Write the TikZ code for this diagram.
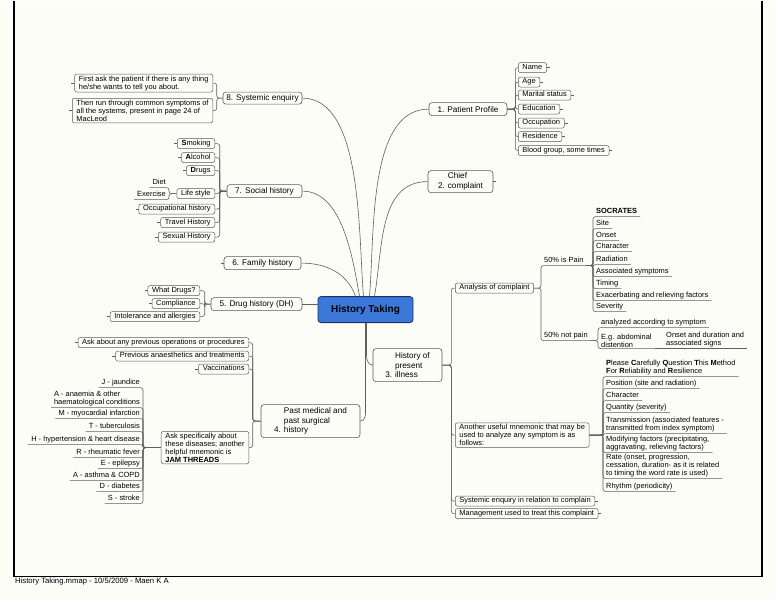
\documentclass[tikz,border=0pt]{standalone}
\usepackage{fontspec}
\setmainfont{Liberation Sans}
\definecolor{hubblue}{RGB}{60,120,216}
\definecolor{hubedge}{RGB}{25,50,110}
\definecolor{lineg}{RGB}{95,95,95}
\definecolor{boxg}{RGB}{90,90,90}
\definecolor{bgc}{RGB}{253,253,248}
\begin{document}
\begin{tikzpicture}[x=1pt,y=-1pt,
 conn/.style={draw=lineg,line width=0.6pt,rounded corners=2.5pt},
 hubnode/.style={draw=hubedge,fill=hubblue,line width=0.8pt,rounded corners=3pt,minimum width=95pt,minimum height=26pt,inner sep=0pt,font=\fontsize{10}{12}\selectfont\bfseries},
 mainbox/.style={draw=boxg,line width=0.6pt,rounded corners=3pt,inner xsep=2pt,inner ysep=0pt,font=\fontsize{8.2}{9.7}\selectfont},
 subbase/.style={draw=boxg,line width=0.5pt,rounded corners=2pt,inner xsep=4.2pt,inner ysep=1.5pt,font=\fontsize{7.45}{8.0}\selectfont},
 subbox/.style={subbase,text height=5.3pt,text depth=1.6pt},
 subml/.style={subbase,align=left},
 ulbase/.style={inner xsep=3pt,inner ysep=1pt,font=\fontsize{7.45}{8.0}\selectfont},
 ultext/.style={ulbase,text height=5.3pt,text depth=1.6pt},
 ulml/.style={ulbase,align=left},
 tickR/.style={append after command={(\tikzlastnode.east) edge[draw=lineg,line width=0.5pt] ++(3pt,0pt)}},
 tickL/.style={append after command={(\tikzlastnode.west) edge[draw=lineg,line width=0.5pt] ++(-3pt,0pt)}},
]
\path[fill=bgc] (0,0) rectangle (776,600);
\draw[line width=1.2pt] (14,0) -- (14,576) -- (762,576) -- (762,0);
\node[anchor=base west,inner sep=0pt,font=\fontsize{7.7}{9}\selectfont] (foot) at (15,583) {History Taking.mmap - 10/5/2009 - Maen K A};

% hub and main branches
\node[hubnode] (hub) at (365.5,309) {History Taking};
\node[mainbox,minimum width=78pt,minimum height=13pt] (c1) at (468,108.5) {1. Patient Profile};
\node[mainbox,minimum width=65pt,minimum height=22pt,align=left,tickR] (c2) at (460.5,181) {\phantom{2. }Chief\\2. complaint};
\node[mainbox,minimum width=69pt,minimum height=33pt,align=left] (c3) at (407.5,364.5) {\phantom{3. }History of\\\phantom{3. }present\\3. illness};
\node[mainbox,minimum width=99pt,minimum height=33pt,align=left] (c4) at (310.5,420.5) {\phantom{4. }Past medical and\\\phantom{4. }past surgical\\4. history};
\node[mainbox,minimum width=91pt,minimum height=13pt] (c5) at (256.5,303.5) {5. Drug history (DH)};
\node[mainbox,minimum width=77pt,minimum height=13pt,tickL] (c6) at (262.5,262.5) {6. Family history};
\node[mainbox,minimum width=75pt,minimum height=13pt] (c7) at (264.5,190.5) {7. Social history};
\node[mainbox,minimum width=79pt,minimum height=12pt] (c8) at (262.5,97.5) {8. Systemic enquiry};

\draw[conn] (c8.east) to[out=0,in=95,looseness=0.75] ([xshift=-2pt]hub.north);
\draw[conn] (c7.east) to[out=0,in=100,looseness=0.85] ([xshift=-6pt]hub.north);
\draw[conn] (c6.east) to[out=0,in=110] ([xshift=-10pt]hub.north);
\draw[conn] ([xshift=4pt]hub.north) to[out=85,in=180,looseness=0.8] (c1.west);
\draw[conn] ([xshift=9pt]hub.north) to[out=80,in=180] (c2.west);
\draw[conn] (c5.east) -- (c5.east -| hub.west);
\draw[conn] ([xshift=1pt]hub.south) -- ++(0,30) to[out=-90,in=180] (c3.west);
\draw[conn] (hub.south) -- ++(0,88) to[out=-90,in=0] (c4.east);

% 1. Patient profile
\node[subbox,anchor=west,tickR] (pp1) at (518,67) {Name};
\node[subbox,anchor=west,tickR] (pp2) at (518,81.5) {Age};
\node[subbox,anchor=west,tickR] (pp3) at (518,94.5) {Marital status};
\node[subbox,anchor=west,tickR] (pp4) at (518,108.5) {Education};
\node[subbox,anchor=west,tickR] (pp5) at (518,122.5) {Occupation};
\node[subbox,anchor=west,tickR] (pp6) at (518,136) {Residence};
\node[subbox,anchor=west,tickR] (pp7) at (518,150) {Blood group, some times};
\foreach \n in {pp1,pp2,pp3,pp4,pp5,pp6,pp7}
  \draw[conn] (c1.east) -- ++(8,0) |- (\n.west);

% 8. Systemic enquiry
\node[subml,anchor=east,tickL] (se1) at (213,82.5) {First ask the patient if there is any thing\\he/she wants to tell you about.};
\node[subml,anchor=east,tickL] (se2) at (213,110) {Then run through common symptoms of\\all the systems, present in page 24 of\\MacLeod};
\foreach \n in {se1,se2}
  \draw[conn] (c8.west) -- ++(-6,0) |- (\n.east);

% 7. Social history
\node[subbox,anchor=east,tickL] (sh1) at (215,143) {\textbf{S}moking};
\node[subbox,anchor=east,tickL] (sh2) at (215,157) {\textbf{A}lcohol};
\node[subbox,anchor=east,tickL] (sh3) at (215,170) {\textbf{D}rugs};
\node[subbox,anchor=east] (sh4) at (215,193) {Life style};
\node[subbox,anchor=east,tickL] (sh5) at (215,208.5) {Occupational history};
\node[subbox,anchor=east,tickL] (sh6) at (215,222) {Travel History};
\node[subbox,anchor=east,tickL] (sh7) at (215,236.5) {Sexual History};
\foreach \n in {sh1,sh2,sh3,sh4,sh5,sh6,sh7}
  \draw[conn] (c7.west) -- ++(-7,0) |- (\n.east);
\node[ultext,anchor=south east] (ls1) at (169,187) {Diet};
\node[ultext,anchor=south east] (ls2) at (169,199) {Exercise};
\foreach \n in {ls1,ls2}
  \draw[conn] (sh4.west) -- (\n.south east |- sh4.west) -- (\n.south east) -- (\n.south west);

% 5. Drug history
\node[subbox,anchor=east,tickL] (dh1) at (200,290) {What Drugs?};
\node[subbox,anchor=east,tickL] (dh2) at (200,303) {Compliance};
\node[subbox,anchor=east,tickL] (dh3) at (200,316) {Intolerance and allergies};
\foreach \n in {dh1,dh2,dh3}
  \draw[conn] (c5.west) -- ++(-6,0) |- (\n.east);

% 4. Past medical and surgical history
\node[subbox,anchor=east,tickL] (pm1) at (249,342) {Ask about any previous operations or procedures};
\node[subbox,anchor=east,tickL] (pm2) at (249,355.5) {Previous anaesthetics and treatments};
\node[subbox,anchor=east,tickL] (pm3) at (249,368.5) {Vaccinations};
\node[subml,anchor=east] (pm4) at (249,447) {Ask specifically about\\these diseases; another\\helpful mnemonic is\\\textbf{JAM THREADS}};
\foreach \n in {pm1,pm2,pm3,pm4}
  \draw[conn] (c4.west) -- ++(-8,0) |- (\n.east);
\node[ultext,anchor=south east] (j1) at (143,387) {J - jaundice};
\node[ulml,anchor=south east] (j2) at (143,407) {A - anaemia \& other\\haematological conditions};
\node[ultext,anchor=south east] (j3) at (143,418) {M - myocardial infarction};
\node[ultext,anchor=south east] (j4) at (143,431) {T - tuberculosis};
\node[ultext,anchor=south east] (j5) at (143,444) {H - hypertension \& heart disease};
\node[ultext,anchor=south east] (j6) at (143,457) {R - rheumatic fever};
\node[ultext,anchor=south east] (j7) at (143,468) {E - epilepsy};
\node[ultext,anchor=south east] (j8) at (143,480) {A - asthma \& COPD};
\node[ultext,anchor=south east] (j9) at (143,491) {D - diabetes};
\node[ultext,anchor=south east] (j10) at (143,503) {S - stroke};
\foreach \n in {j1,j2,j3,j4,j5,j6,j7,j8,j9,j10}
  \draw[conn] (pm4.west) -- (\n.south east |- pm4.west) -- (\n.south east) -- (\n.south west);

% 3. History of present illness
\node[subbox,anchor=west] (hp1) at (455,287.5) {Analysis of complaint};
\node[subml,anchor=west] (hp2) at (455,434.5) {Another useful mnemonic that may be\\used to analyze any symptom is as\\follows:};
\node[subbox,anchor=west,tickR] (hp3) at (455,500.5) {Systemic enquiry in relation to complain};
\node[subbox,anchor=west,tickR] (hp4) at (455,513) {Management used to treat this complaint};
\foreach \n in {hp1,hp2,hp3,hp4}
  \draw[conn] (c3.east) -- ++(9,0) |- (\n.west);

\node[ultext,anchor=south west] (ac1) at (541,265) {50\% is Pain};
\node[ultext,anchor=south west] (ac2) at (541,340) {50\% not pain};
\foreach \n in {ac1,ac2}
  \draw[conn] (hp1.east) -- (\n.south west |- hp1.east) -- (\n.south west) -- (\n.south east);

\node[ultext,anchor=south west] (so0) at (593,216) {\textbf{SOCRATES}};
\node[ultext,anchor=south west] (so1) at (593,228) {Site};
\node[ultext,anchor=south west] (so2) at (593,240) {Onset};
\node[ultext,anchor=south west] (so3) at (593,251) {Character};
\node[ultext,anchor=south west] (so4) at (593,264) {Radiation};
\node[ultext,anchor=south west] (so5) at (593,276) {Associated symptoms};
\node[ultext,anchor=south west] (so6) at (593,288) {Timing};
\node[ultext,anchor=south west] (so7) at (593,300) {Exacerbating and relieving factors};
\node[ultext,anchor=south west] (so8) at (593,311) {Severity};
\foreach \n in {so0,so1,so2,so3,so4,so5,so6,so7,so8}
  \draw[conn] (ac1.south east) -- (\n.south west |- ac1.south east) -- (\n.south west) -- (\n.south east);

\node[ultext,anchor=south west] (np1) at (598,327) {analyzed according to symptom};
\node[ulml,anchor=south west] (np2) at (598,348) {E.g. abdominal\\distention};
\foreach \n in {np1,np2}
  \draw[conn] (ac2.south east) -- (\n.south west |- ac2.south east) -- (\n.south west) -- (\n.south east);
\node[ulml,anchor=south west] (eg1) at (663,348) {Onset and duration and\\associated signs};
\draw[conn] (np2.south east) -- (eg1.south west) -- (eg1.south east);

\node[ulml,anchor=south west] (mm0) at (603,376) {\textbf{P}lease \textbf{C}arefully \textbf{Q}uestion \textbf{T}his \textbf{M}ethod\\\textbf{F}or \textbf{R}eliability and \textbf{R}esilience};
\node[ultext,anchor=south west] (mm1) at (603,388) {Position (site and radiation)};
\node[ultext,anchor=south west] (mm2) at (603,400) {Character};
\node[ultext,anchor=south west] (mm3) at (603,412) {Quantity (severity)};
\node[ulml,anchor=south west] (mm4) at (603,433) {Transmission (associated features -\\transmitted from index symptom)};
\node[ulml,anchor=south west] (mm5) at (603,452) {Modifying factors (precipitating,\\aggravating, relieving factors)};
\node[ulml,anchor=south west] (mm6) at (603,478) {Rate (onset, progression,\\cessation, duration- as it is related\\to timing the word rate is used)};
\node[ultext,anchor=south west] (mm7) at (603,491) {Rhythm (periodicity)};
\foreach \n in {mm0,mm1,mm2,mm3,mm4,mm5,mm6,mm7}
  \draw[conn] (hp2.east) -- (\n.south west |- hp2.east) -- (\n.south west) -- (\n.south east);
\end{tikzpicture}
\end{document}
